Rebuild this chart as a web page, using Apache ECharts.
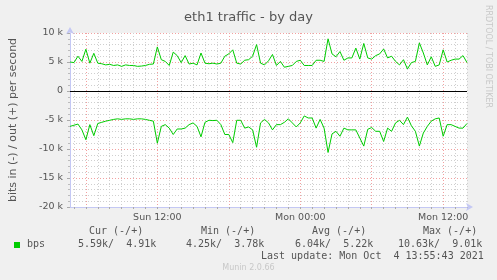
<!DOCTYPE html>
<html>
<head>
<meta charset="utf-8">
<script src="https://cdn.jsdelivr.net/npm/echarts@6/dist/echarts.min.js"></script>
<style>
html,body{margin:0;padding:0;background:#F0F0F0;}
#chart{width:497px;height:280px;}
</style>
</head>
<body>
<div id="chart"></div>
<script>
// ---- data (kbit/s), one sample every 20 minutes from Sun 04:40 to Mon 14:00 ----
const startLabel = { day: 'Sun', hour: 4, minute: 40 };
const stepMinutes = 20;

const outValues = [
  5.0, 4.9, 6.0, 5.1, 7.2, 4.8, 6.5, 4.8, 4.7, 4.5,
  4.6, 4.4, 4.5, 4.25, 4.5, 4.4, 4.4, 4.25, 4.3, 4.4,
  4.6, 4.65, 7.6, 5.4, 5.1, 4.4, 6.7, 6.1, 4.9, 6.1,
  4.65, 4.8, 4.5, 6.55, 4.8, 4.7, 4.8, 4.65, 4.8, 6.0,
  6.4, 7.1, 4.8, 4.65, 5.3, 5.4, 6.0, 8.0, 4.8, 4.5,
  5.2, 6.3, 4.4, 5.1, 4.1, 4.25, 4.4, 5.1, 5.3, 4.4,
  4.4, 4.4, 5.3, 5.3, 5.1, 9.0, 6.4, 5.9, 6.8, 5.3,
  5.7, 5.7, 7.4, 5.5, 8.2, 5.7, 5.5, 6.1, 6.4, 7.25,
  5.7, 6.0, 5.1, 4.5, 5.4, 3.8, 4.9, 5.1, 8.3, 6.55,
  4.5, 5.9, 4.25, 4.5, 7.1, 5.0, 5.3, 5.5, 5.5, 6.1,
  4.9
];

const inValues = [
  6.1, 5.9, 5.7, 6.7, 8.4, 5.8, 7.7, 5.6, 5.4, 5.2,
  5.05, 4.9, 4.8, 4.9, 4.8, 4.8, 4.9, 4.8, 4.8, 4.9,
  5.05, 5.2, 9.0, 6.1, 5.8, 6.4, 7.5, 6.55, 6.55, 6.4,
  5.8, 5.5, 6.1, 7.9, 5.4, 5.05, 5.1, 5.05, 5.8, 7.5,
  7.5, 8.9, 5.05, 5.05, 6.4, 6.2, 6.7, 9.7, 5.5, 4.9,
  5.5, 6.7, 5.8, 5.8, 5.4, 4.8, 5.5, 6.2, 5.5, 4.3,
  4.65, 4.65, 6.4, 4.9, 6.4, 10.6, 7.4, 6.95, 7.8, 6.4,
  6.7, 6.7, 6.7, 8.1, 9.5, 6.6, 6.3, 6.95, 6.95, 8.7,
  6.4, 6.95, 5.5, 5.05, 5.8, 4.5, 6.0, 6.95, 9.5, 7.25,
  6.1, 5.2, 4.8, 4.65, 7.8, 5.8, 5.8, 6.1, 6.4, 6.4,
  5.6
];

const xTickLabels = ['Sun 12:00', 'Mon 00:00', 'Mon 12:00'];
const yTickValues = [-20, -15, -10, -5, 0, 5, 10];

const legendHeaders = ['Cur (-/+)', 'Min (-/+)', 'Avg (-/+)', 'Max (-/+)'];
const legendStats = ['5.59k/  4.91k', '4.25k/  3.78k', '6.04k/  5.22k', '10.63k/  9.01k'];
const seriesName = 'bps';
const lastUpdate = 'Last update: Mon Oct  4 13:55:43 2021';

// ---- build category axis labels ----
const days = ['Sun', 'Mon'];
const categories = [];
for (let i = 0; i < outValues.length; i++) {
  const total = startLabel.hour * 60 + startLabel.minute + i * stepMinutes;
  const d = days[Math.floor(total / 1440)];
  const h = Math.floor((total % 1440) / 60);
  const m = total % 60;
  categories.push(d + ' ' + String(h).padStart(2, '0') + ':' + String(m).padStart(2, '0'));
}
function isHourIdx(i) { const v = categories[i]; return !!v && v.slice(-2) === '00'; }
function isMajorIdx(i) { const v = categories[i]; return isHourIdx(i) && parseInt(v.slice(4, 6), 10) % 6 === 0; }

const GREEN = '#00CC00';
const SANS = 'DejaVu Sans';
const MONO = 'DejaVu Sans Mono';
const GRIDGRAY = '#cfcfcf';
const GRIDRED = '#f2a0a0';

const chart = echarts.init(document.getElementById('chart'), null, { renderer: 'canvas' });

const headerX = [89, 201, 312, 423];
const statX = [78, 186, 295, 398];
const graphics = [];
legendHeaders.forEach((t, i) => graphics.push({
  type: 'text', left: headerX[i], top: 226,
  style: { text: t, font: '10px "' + MONO + '"', fill: '#555' }
}));
legendStats.forEach((t, i) => graphics.push({
  type: 'text', left: statX[i], top: 239,
  style: { text: t, font: '10px "' + MONO + '"', fill: '#555' }
}));
graphics.push({ type: 'rect', left: 14, top: 242, shape: { width: 6, height: 6 }, style: { fill: GREEN } });
graphics.push({ type: 'text', left: 27, top: 239, style: { text: seriesName, font: '10px "' + MONO + '"', fill: '#555' } });
graphics.push({ type: 'text', left: 261, top: 251, style: { text: lastUpdate, font: '10px "' + MONO + '"', fill: '#555' } });
graphics.push({ type: 'text', left: 'center', top: 264, style: { text: 'Munin 2.0.66', font: '8px "' + SANS + '"', fill: '#c8c8c8' } });
graphics.push({
  type: 'text', x: 484, y: 5, rotation: -Math.PI / 2,
  style: { text: 'RRDTOOL / TOBI OETIKER', font: '8px "' + SANS + '"', fill: '#c8c8c8', textAlign: 'left', textVerticalAlign: 'bottom' }
});

const option = {
  backgroundColor: '#F0F0F0',
  animation: false,
  title: {
    text: 'eth1 traffic - by day',
    left: 'center', top: 6,
    textStyle: { fontFamily: SANS, fontSize: 13, fontWeight: 'normal', color: '#555' }
  },
  grid: { left: 67, top: 33, width: 400, height: 174, show: true, backgroundColor: '#FFFFFF', borderWidth: 0 },
  xAxis: [
    {
      type: 'category', data: categories, boundaryGap: false,
      axisLine: { show: true, onZero: false, lineStyle: { color: '#c4c8f4', width: 1 }, symbol: ['none', 'arrow'], symbolSize: [6, 7], symbolOffset: [0, 6] },
      axisTick: { show: true, length: 2, interval: (i) => isHourIdx(i), lineStyle: { color: '#aaa' } },
      axisLabel: {
        interval: (i) => xTickLabels.indexOf(categories[i]) >= 0,
        fontFamily: SANS, fontSize: 9.5, color: '#555', margin: 6
      },
      splitLine: { show: true, interval: (i) => isHourIdx(i) && !isMajorIdx(i), lineStyle: { color: GRIDGRAY, type: [1, 2], width: 1 } }
    },
    {
      type: 'category', data: categories, boundaryGap: false, position: 'bottom',
      axisLine: { show: false, onZero: false }, axisTick: { show: false }, axisLabel: { show: false },
      splitLine: { show: true, interval: (i) => isMajorIdx(i), lineStyle: { color: GRIDRED, type: [1, 2], width: 1 } }
    }
  ],
  yAxis: {
    type: 'value', min: -20, max: 10, interval: 5,
    name: 'bits in (-) / out (+) per second', nameLocation: 'middle', nameGap: 51, nameRotate: 90,
    nameTextStyle: { fontFamily: SANS, fontSize: 11, color: '#555' },
    axisLine: { show: true, onZero: false, lineStyle: { color: '#c4c8f4', width: 1 }, symbol: ['none', 'arrow'], symbolSize: [6, 7], symbolOffset: [0, 6] },
    axisTick: { show: true, length: 3, lineStyle: { color: '#aaa' } },
    minorTick: { show: true, splitNumber: 5, length: 2, lineStyle: { color: '#bbb' } },
    axisLabel: {
      fontFamily: SANS, fontSize: 9.5, color: '#555', margin: 7,
      formatter: v => (yTickValues.indexOf(v) >= 0 ? (v === 0 ? '0' : v + ' k') : '')
    },
    splitLine: { show: true, lineStyle: { color: GRIDRED, type: [1, 2], width: 1 } },
    minorSplitLine: { show: true, lineStyle: { color: GRIDGRAY, type: [1, 2], width: 1 } }
  },
  series: [
    {
      name: 'out', type: 'line', data: outValues, xAxisIndex: 0, z: 5,
      symbol: 'none', lineStyle: { color: GREEN, width: 1 }, itemStyle: { color: GREEN },
      markLine: {
        silent: true, symbol: ['none', 'none'], label: { show: false },
        lineStyle: { color: '#000', type: 'solid', width: 1 },
        data: [{ yAxis: 0 }]
      }
    },
    {
      name: 'in', type: 'line', data: inValues.map(v => -v), xAxisIndex: 0, z: 5,
      symbol: 'none', lineStyle: { color: GREEN, width: 1 }, itemStyle: { color: GREEN }
    }
  ],
  graphic: graphics
};
chart.setOption(option);
</script>
</body>
</html>
